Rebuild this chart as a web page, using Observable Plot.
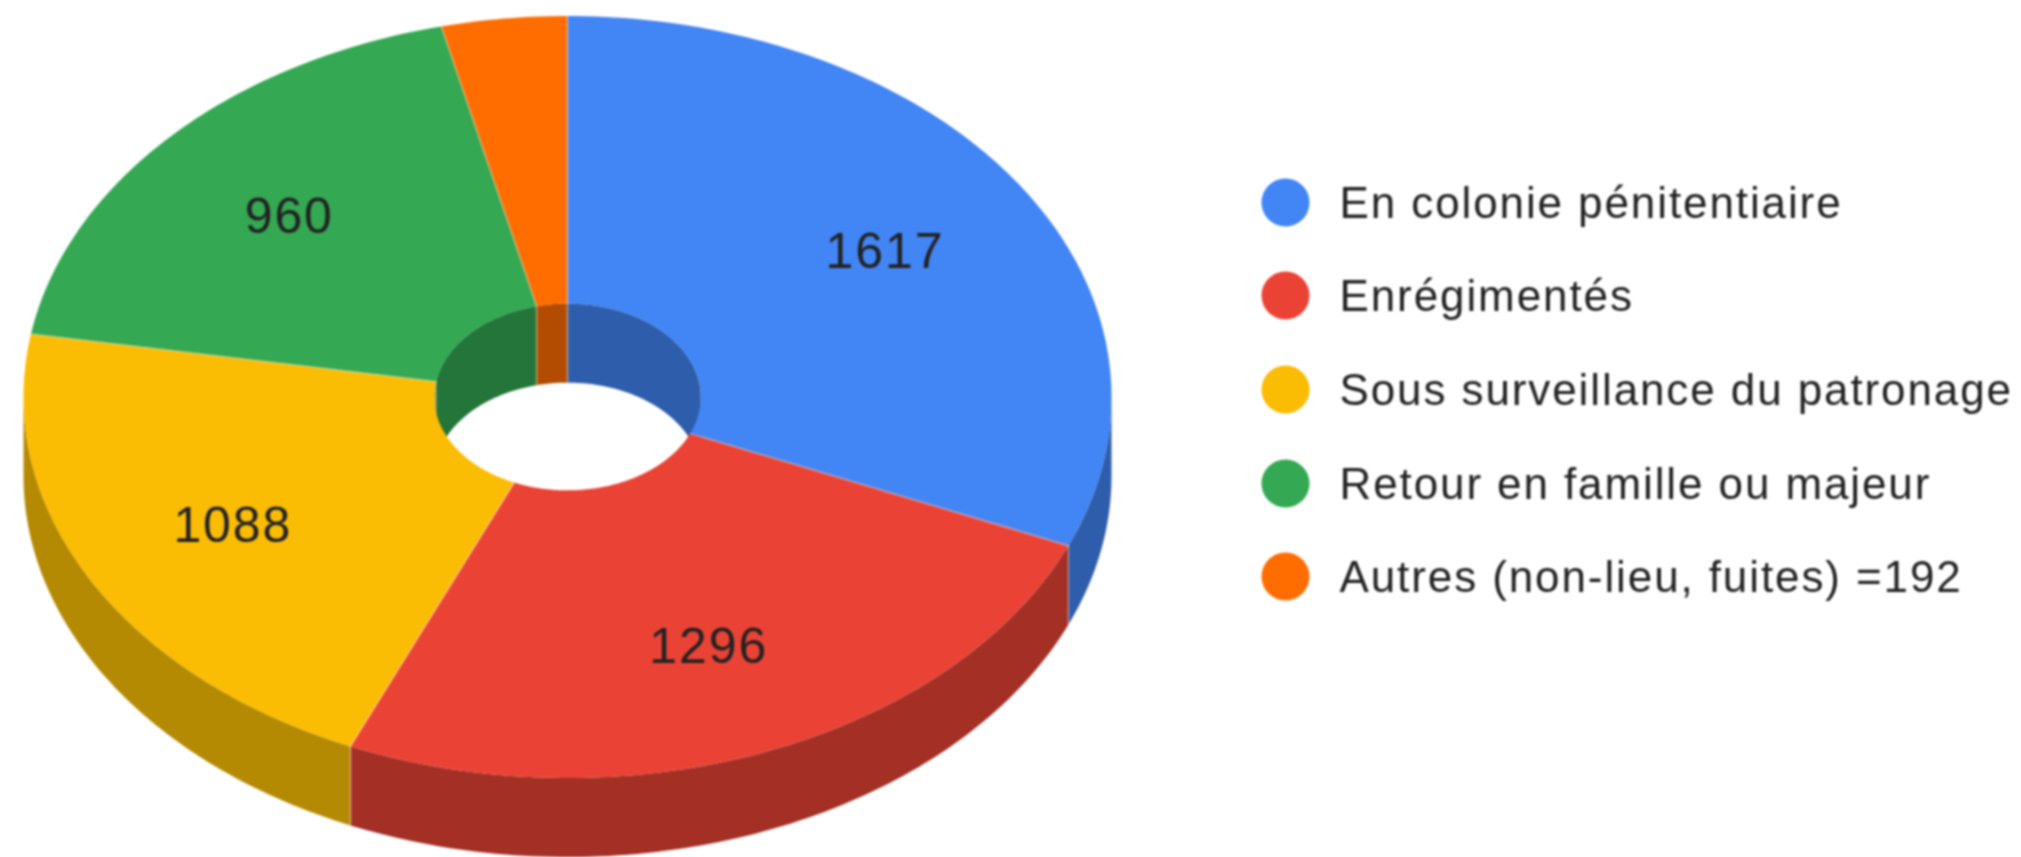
<!DOCTYPE html>
<html lang="fr">
<head>
<meta charset="utf-8">
<style>html,body{margin:0;padding:0;background:#fff;overflow:hidden}svg{display:block}</style>
<script src="https://cdn.jsdelivr.net/npm/d3@7"></script>
<script src="https://cdn.jsdelivr.net/npm/@observablehq/plot@0.6"></script>
</head>
<body>
<div id="chart"></div>
<script>
const categories = ["En colonie pénitentiaire", "Enrégimentés", "Sous surveillance du patronage", "Retour en famille ou majeur", "Autres (non-lieu, fuites) =192"];
const values = [1617, 1296, 1088, 960, 192];
const faceColors = ["#4285f4", "#ea4335", "#fbbc04", "#34a853", "#ff6d01"];
const wallColors = ["#2e5dab", "#a32f25", "#b58a03", "#247539", "#b34c01"];
const labelled = [true, true, true, true, false];

const W = 2021, H = 857;
const cx = 567, cy = 396.5, rx = 544, ry = 381;   // frame of the unit disc
const inner = 0.245, depth = 79 / ry, labelR = 0.7;

const total = d3.sum(values);
const stops = d3.cumsum([0, ...values]).map(v => v / total * 360);
const pt = (deg, r, drop = 0) => {
  const t = deg * Math.PI / 180;
  return {u: r * Math.sin(t), v: -r * Math.cos(t) + drop};
};
const arc = (a, b, r, drop = 0) => {
  const n = Math.max(2, Math.ceil(Math.abs(b - a)));
  return d3.range(n + 1).map(i => pt(a + (b - a) * i / n, r, drop));
};

const topFaces = [], walls = [], seams = [], innerSeams = [];
values.forEach((_, i) => {
  const a = stops[i], b = stops[i + 1];
  [...arc(a, b, 1), ...arc(b, a, inner)].forEach(p => topFaces.push({...p, id: "t" + i, fill: faceColors[i]}));
  seams.push({...pt(a, inner), id: "s" + i}, {...pt(a, 1), id: "s" + i});
  // outer wall: front half of the rim
  const oa = Math.max(a, 90), ob = Math.min(b, 270);
  if (oa < ob) {
    [...arc(oa, ob, 1), ...arc(ob, oa, 1, depth)].forEach(p => walls.push({...p, id: "o" + i, fill: wallColors[i]}));
    if (a >= 90 && a <= 270) seams.push({...pt(a, 1), id: "w" + i}, {...pt(a, 1, depth), id: "w" + i});
  }
  // inner wall: back half of the hole
  [[a, Math.min(b, 90)], [Math.max(a, 270), b]].forEach(([ia, ib], k) => {
    if (ia < ib) {
      [...arc(ia, ib, inner), ...arc(ib, ia, inner, depth)].forEach(p => walls.push({...p, id: "i" + i + k, fill: wallColors[i]}));
      innerSeams.push({...pt(ia, inner), id: "h" + i + k}, {...pt(ia, inner, depth), id: "h" + i + k});
    }
  });
});

const labels = values.map((v, i) => ({...pt((stops[i] + stops[i + 1]) / 2, labelR), text: String(v)})).filter((_, i) => labelled[i]);

const lx = px => (px - cx) / rx, ly = py => (py - cy) / ry;
const legendRows = [202, 295, 389, 483, 576];
const legend = categories.map((c, i) => ({c, u: lx(1285), tu: lx(1339), v: ly(legendRows[i]), fill: faceColors[i]}));

const chart = Plot.plot({
  width: W, height: H,
  margin: 0,
  style: {background: "#fff", filter: "blur(1px)", letterSpacing: "1.9px"},
  x: {domain: [lx(0), lx(W)], range: [0, W], axis: null},
  y: {domain: [ly(0), ly(H)], range: [0, H], axis: null},
  color: {type: "identity"},
  marks: [
    Plot.line(walls, {x: "u", y: "v", z: "id", fill: "fill", stroke: "none", curve: "linear"}),
    Plot.line(innerSeams, {x: "u", y: "v", z: "id", stroke: "#ffffff", strokeOpacity: 0.3, strokeWidth: 1.5, curve: "linear"}),
    Plot.line(topFaces, {x: "u", y: "v", z: "id", fill: "fill", stroke: "none", curve: "linear"}),
    Plot.line(seams, {x: "u", y: "v", z: "id", stroke: "#ffffff", strokeOpacity: 0.3, strokeWidth: 1.5, curve: "linear"}),
    Plot.text(labels, {x: "u", y: "v", dy: 2, text: "text", fontSize: 50, fontFamily: "Liberation Sans, Arial, sans-serif", fill: "#222222"}),
    Plot.dot(legend, {x: "u", y: "v", r: 24, fill: "fill", stroke: "none"}),
    Plot.text(legend, {x: "tu", y: "v", dy: 1, text: "c", textAnchor: "start", fontSize: 44, fontFamily: "Liberation Sans, Arial, sans-serif", fill: "#222222"})
  ]
});
document.getElementById("chart").append(chart);
</script>
</body>
</html>
